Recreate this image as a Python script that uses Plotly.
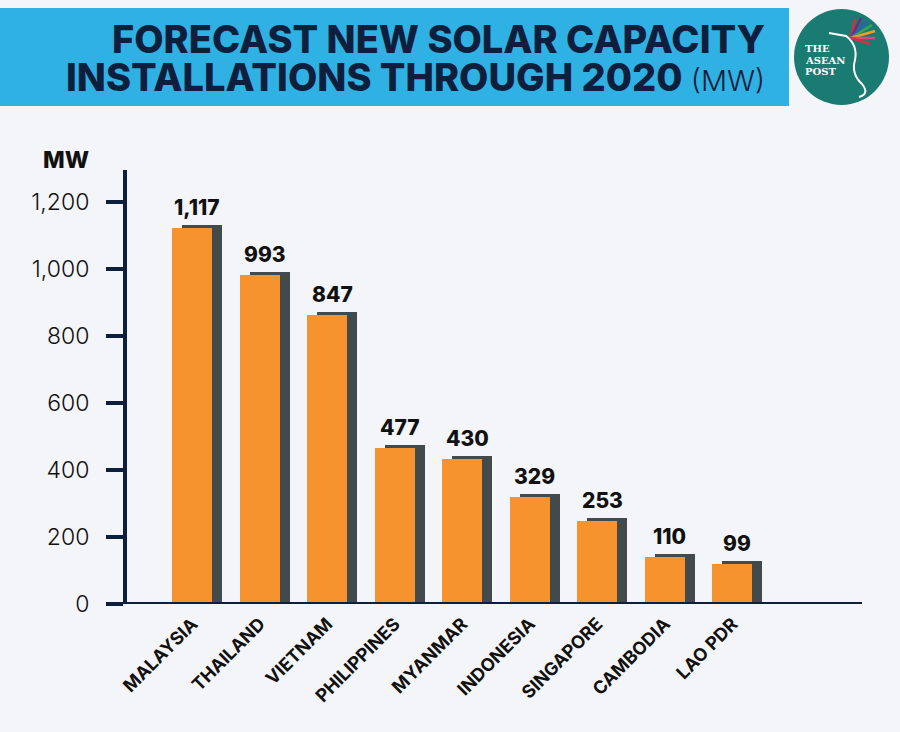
import plotly.graph_objects as go

# ---- data ----
countries = ["MALAYSIA", "THAILAND", "VIETNAM", "PHILIPPINES", "MYANMAR",
             "INDONESIA", "SINGAPORE", "CAMBODIA", "LAO PDR"]
bar_heights = [1122, 982, 863, 466, 433, 319, 248, 140, 119]   # heights as drawn
value_labels = ["1,117", "993", "847", "477", "430", "329", "253", "110", "99"]
y_tick_vals = [0, 200, 400, 600, 800, 1000, 1200]

# ---- style ----
W, H = 900, 732
L, R, T, B = 127, 38, 170, 128
BG = "#f4f5f8"
ORANGE = "#f7932f"
SHADOW = "#434a4c"
NAVY = "#0e1e3d"
BLUE = "#30b1e3"
TEAL = "#1a7b73"
FONT = "Inter"
shadow_up = 9          # MW the shadow sits above the bar
bar_w = 0.593
shadow_dx = 0.148

pw, ph = W - L - R, H - T - B


def px(x):
    return (x - L) / pw


def py(y):
    return (H - B - y) / ph


fig = go.Figure()
fig.add_trace(go.Bar(
    x=countries, y=[v + shadow_up for v in bar_heights],
    width=bar_w, offset=-bar_w / 2 + shadow_dx,
    marker=dict(color=SHADOW, line=dict(width=0)), hoverinfo="skip"))
fig.add_trace(go.Bar(
    x=countries, y=bar_heights,
    width=bar_w, offset=-bar_w / 2,
    marker=dict(color=ORANGE, line=dict(width=0))))

annotations = []
for c, v, lab in zip(countries, bar_heights, value_labels):
    annotations.append(dict(
        x=c, y=v + shadow_up, xref="x", yref="y", text=lab, showarrow=False,
        yanchor="bottom", xanchor="center", xshift=5, yshift=3,
        font=dict(family=FONT, size=21, color="#111111", weight=800)))

# y-axis title
annotations.append(dict(
    x=px(66), y=py(160), xref="paper", yref="paper", text="MW", showarrow=False,
    xanchor="center", yanchor="middle",
    font=dict(family=FONT, size=23, color="#111111", weight=800)))

# title
annotations.append(dict(
    x=px(767), y=py(39), xref="paper", yref="paper",
    text="FORECAST NEW SOLAR CAPACITY", showarrow=False,
    xanchor="right", yanchor="middle",
    font=dict(family=FONT, size=38, color=NAVY, weight=800)))
annotations.append(dict(
    x=px(767), y=py(77), xref="paper", yref="paper",
    text="INSTALLATIONS THROUGH 2020 <span style='font-weight:300;font-size:29px'>(MW)</span>",
    showarrow=False, xanchor="right", yanchor="middle",
    font=dict(family=FONT, size=38, color=NAVY, weight=800)))

# logo text
for i, word in enumerate(["THE", "ASEAN", "POST"]):
    annotations.append(dict(
        x=px(803), y=py(49 + i * 11.5), xref="paper", yref="paper", text=word,
        showarrow=False, xanchor="left", yanchor="middle",
        font=dict(family="DejaVu Serif", size=10, color="white", weight=700)))

shapes = [
    # banner
    dict(type="rect", xref="paper", yref="paper", x0=px(0), x1=px(789),
         y0=py(106), y1=py(8), fillcolor=BLUE, line=dict(width=0), layer="below"),
    # logo circle
    dict(type="circle", xref="paper", yref="paper", x0=px(794), x1=px(889),
         y0=py(105), y1=py(9), fillcolor=TEAL, line=dict(width=0)),
    # bird body
    dict(type="path", xref="paper", yref="paper",
         path=(f"M {px(829)} {py(33)} L {px(846)} {py(36)} "
               f"Q {px(858)} {py(45)} {px(855)} {py(60)} "
               f"Q {px(851)} {py(74)} {px(862)} {py(84)} "
               f"Q {px(870)} {py(94)} {px(859)} {py(97)}"),
         line=dict(color="white", width=2)),
    # x axis line
    dict(type="line", xref="paper", yref="y", x0=px(107), x1=px(862), y0=0, y1=0,
         line=dict(color=NAVY, width=4)),
]
plume = [(855, 19, "#d6303c"), (861, 18, "#6b2d8a"), (867, 21, "#2d5fb3"),
         (872, 25, "#3aa655"), (875, 31, "#f39a2b"), (875, 38, "#e0457b"),
         (870, 44, "#d6303c")]
for ex, ey, col in plume:
    shapes.append(dict(type="line", xref="paper", yref="paper",
                       x0=px(851), y0=py(38), x1=px(ex), y1=py(ey),
                       line=dict(color=col, width=2.5)))

fig.update_layout(
    width=W, height=H, margin=dict(l=L, r=R, t=T, b=B, pad=0),
    paper_bgcolor=BG, plot_bgcolor=BG,
    barmode="overlay", showlegend=False, bargap=0,
    annotations=annotations, shapes=shapes,
    xaxis=dict(range=[-0.967, 9.92], showgrid=False, zeroline=False, showline=False,
               ticks="", tickangle=-45, ticklabelstandoff=5,
               tickfont=dict(family=FONT, size=18, color="#111111", weight=700)),
    yaxis=dict(range=[0, 1295], tickvals=y_tick_vals, tickformat=",",
               showgrid=False, zeroline=False, showline=True, linecolor=NAVY,
               linewidth=4, ticks="outside", ticklen=17, tickwidth=4,
               tickcolor=NAVY, ticklabelstandoff=12,
               tickfont=dict(family=FONT, size=23, color="#111111", weight=300)),
)

fig.write_html(
    "out.html",
    config={"displayModeBar": False},
    post_script="document.body.style.margin='0';"
                "document.body.style.overflow='hidden';"
                f"document.body.style.background='{BG}';",
)
